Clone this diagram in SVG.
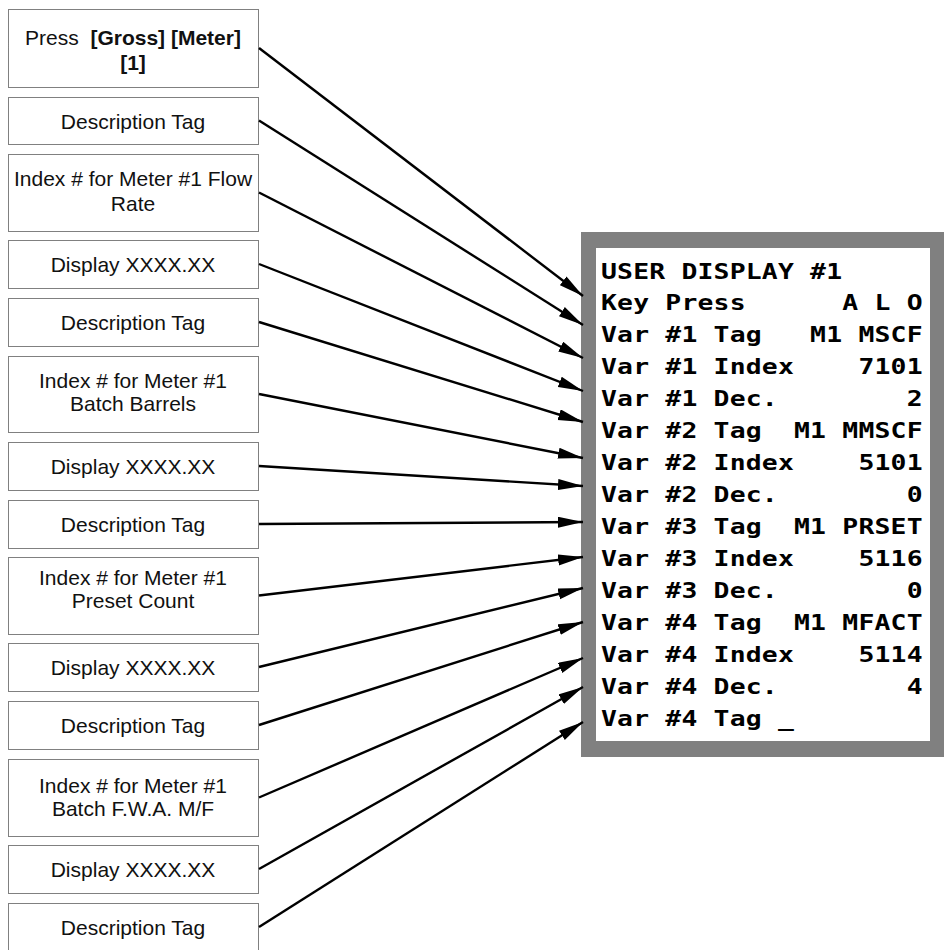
<svg xmlns="http://www.w3.org/2000/svg" width="944" height="950" viewBox="0 0 944 950">
<style>
.box{fill:#fff;stroke:#000;stroke-width:1;stroke-dasharray:1 1}
.lbl{font-family:"Liberation Sans",Arial,sans-serif;font-size:21px;fill:#111;text-anchor:middle}
.b{font-weight:bold}
.conn{stroke:#000;stroke-width:2.4;fill:none}
.lcd{font-family:"DejaVu Sans Mono",monospace;font-weight:bold;font-size:22px;letter-spacing:0.17px;fill:#000}
</style>
<defs>
<marker id="ah" markerUnits="userSpaceOnUse" markerWidth="26" markerHeight="12" refX="25" refY="5.5" orient="auto">
<path d="M0,0 L25,5.5 L0,11 Z" fill="#000"/>
</marker>
</defs>
<rect width="944" height="950" fill="#fff"/>

<g id="display">
<rect x="581" y="232" width="363" height="525" fill="#808080"/>
<rect x="596" y="248" width="334" height="493" fill="#fff"/>
<g transform="translate(601,0) scale(1.2,1)">
<text class="lcd" xml:space="preserve" x="0" y="279">USER DISPLAY #1</text>
<text class="lcd" xml:space="preserve" x="0" y="310">Key Press      A L O</text>
<text class="lcd" xml:space="preserve" x="0" y="342">Var #1 Tag   M1 MSCF</text>
<text class="lcd" xml:space="preserve" x="0" y="374">Var #1 Index    7101</text>
<text class="lcd" xml:space="preserve" x="0" y="406">Var #1 Dec.        2</text>
<text class="lcd" xml:space="preserve" x="0" y="438">Var #2 Tag  M1 MMSCF</text>
<text class="lcd" xml:space="preserve" x="0" y="470">Var #2 Index    5101</text>
<text class="lcd" xml:space="preserve" x="0" y="502">Var #2 Dec.        0</text>
<text class="lcd" xml:space="preserve" x="0" y="534">Var #3 Tag  M1 PRSET</text>
<text class="lcd" xml:space="preserve" x="0" y="566">Var #3 Index    5116</text>
<text class="lcd" xml:space="preserve" x="0" y="598">Var #3 Dec.        0</text>
<text class="lcd" xml:space="preserve" x="0" y="630">Var #4 Tag  M1 MFACT</text>
<text class="lcd" xml:space="preserve" x="0" y="662">Var #4 Index    5114</text>
<text class="lcd" xml:space="preserve" x="0" y="694">Var #4 Dec.        4</text>
<text class="lcd" xml:space="preserve" x="0" y="726">Var #4 Tag _</text>
</g>
</g>

<g id="n1"><rect class="box" x="8.5" y="9.5" width="250" height="78"/>
<text class="lbl" xml:space="preserve" x="133" y="45">Press  <tspan class="b">[Gross] [Meter]</tspan></text>
<text class="lbl b" x="133" y="70">[1]</text></g>
<g id="n2"><rect class="box" x="8.5" y="97.5" width="250" height="47"/>
<text class="lbl" x="133" y="128.5">Description Tag</text></g>
<g id="n3"><rect class="box" x="8.5" y="154.5" width="250" height="77"/>
<text class="lbl" x="133" y="185.5">Index # for Meter #1 Flow</text>
<text class="lbl" x="133" y="210.5">Rate</text></g>
<g id="n4"><rect class="box" x="8.5" y="240.5" width="250" height="48"/>
<text class="lbl" x="133" y="271.5">Display XXXX.XX</text></g>
<g id="n5"><rect class="box" x="8.5" y="298.5" width="250" height="48"/>
<text class="lbl" x="133" y="329.5">Description Tag</text></g>
<g id="n6"><rect class="box" x="8.5" y="356.5" width="250" height="76"/>
<text class="lbl" x="133" y="387.5">Index # for Meter #1</text>
<text class="lbl" x="133" y="411">Batch Barrels</text></g>
<g id="n7"><rect class="box" x="8.5" y="442.5" width="250" height="48"/>
<text class="lbl" x="133" y="473.5">Display XXXX.XX</text></g>
<g id="n8"><rect class="box" x="8.5" y="500.5" width="250" height="48"/>
<text class="lbl" x="133" y="531.5">Description Tag</text></g>
<g id="n9"><rect class="box" x="8.5" y="557.5" width="250" height="77"/>
<text class="lbl" x="133" y="584.5">Index # for Meter #1</text>
<text class="lbl" x="133" y="608">Preset Count</text></g>
<g id="n10"><rect class="box" x="8.5" y="643.5" width="250" height="48"/>
<text class="lbl" x="133" y="674.5">Display XXXX.XX</text></g>
<g id="n11"><rect class="box" x="8.5" y="701.5" width="250" height="48"/>
<text class="lbl" x="133" y="732.5">Description Tag</text></g>
<g id="n12"><rect class="box" x="8.5" y="759.5" width="250" height="77"/>
<text class="lbl" x="133" y="792.5">Index # for Meter #1</text>
<text class="lbl" x="133" y="816">Batch F.W.A. M/F</text></g>
<g id="n13"><rect class="box" x="8.5" y="845.5" width="250" height="48"/>
<text class="lbl" x="133" y="876.5">Display XXXX.XX</text></g>
<g id="n14"><rect class="box" x="8.5" y="903.5" width="250" height="50"/>
<text class="lbl" x="133" y="934.5">Description Tag</text></g>

<g id="connectors">
<line class="conn" x1="259" y1="48" x2="583" y2="296" marker-end="url(#ah)"/>
<line class="conn" x1="259" y1="120.5" x2="583" y2="325" marker-end="url(#ah)"/>
<line class="conn" x1="259" y1="192.5" x2="583" y2="358" marker-end="url(#ah)"/>
<line class="conn" x1="259" y1="264" x2="583" y2="391" marker-end="url(#ah)"/>
<line class="conn" x1="259" y1="322" x2="583" y2="422" marker-end="url(#ah)"/>
<line class="conn" x1="259" y1="394" x2="583" y2="458" marker-end="url(#ah)"/>
<line class="conn" x1="259" y1="466" x2="583" y2="486" marker-end="url(#ah)"/>
<line class="conn" x1="259" y1="524" x2="583" y2="522" marker-end="url(#ah)"/>
<line class="conn" x1="259" y1="595.5" x2="583" y2="557" marker-end="url(#ah)"/>
<line class="conn" x1="259" y1="667" x2="583" y2="588" marker-end="url(#ah)"/>
<line class="conn" x1="259" y1="725" x2="583" y2="622" marker-end="url(#ah)"/>
<line class="conn" x1="259" y1="797.5" x2="583" y2="658" marker-end="url(#ah)"/>
<line class="conn" x1="259" y1="869" x2="583" y2="687" marker-end="url(#ah)"/>
<line class="conn" x1="259" y1="927" x2="583" y2="722" marker-end="url(#ah)"/>
</g>
</svg>
